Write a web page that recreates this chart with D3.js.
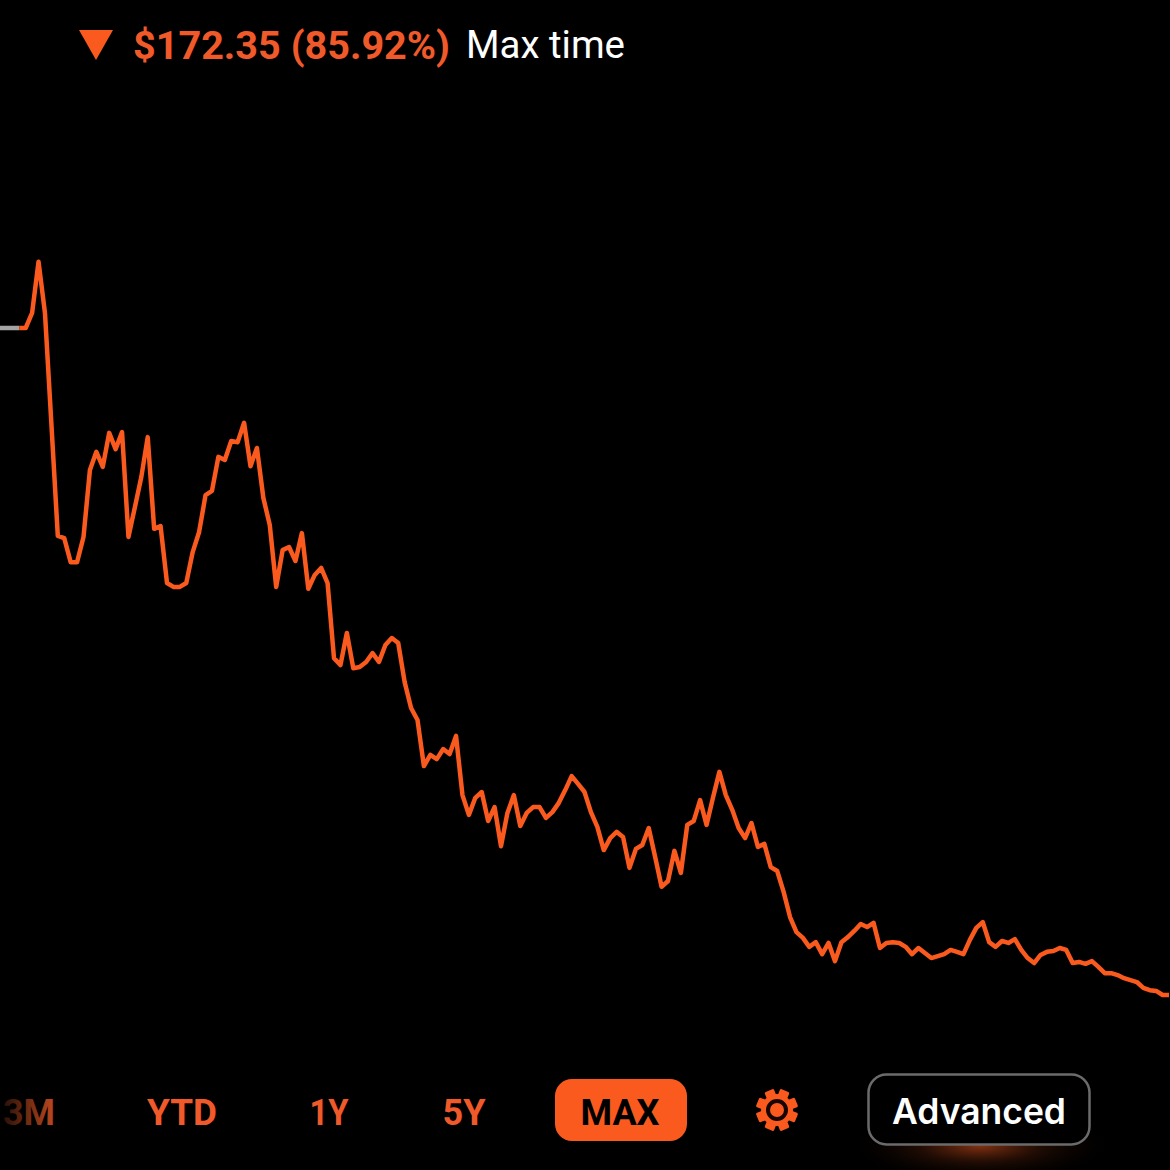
<!DOCTYPE html>
<html lang="en">
<head>
    <meta charset="UTF-8">
    <title>Max time price</title>
    <script src="https://d3js.org/d3.v7.min.js"></script>
    <style>
        html, body { margin: 0; padding: 0; background: #000; }
        svg { display: block; }
        text { font-family: "Liberation Sans", sans-serif; }
    </style>
</head>
<body>
    <script>
        // price readings, one per step
        var prices = [
            200.6, 200.6, 200.6, 200.6, 200.6, 204.5, 217.7, 204.5, 175.8, 146.9,
            146.3, 140.1, 140.1, 146.6, 163.9, 168.6, 164.7, 173.5, 169.3, 173.7,
            146.6, 154.3, 162.1, 172.4, 148.7, 149.4, 134.7, 133.7, 133.7, 134.7,
            142.7, 147.9, 157.4, 158.5, 167.3, 166.5, 171.4, 171.1, 176.1, 164.9,
            169.6, 156.7, 149.7, 133.7, 143.2, 144.0, 140.4, 147.6, 133.2, 136.8,
            138.6, 134.7, 115.3, 113.5, 121.8, 112.7, 113.0, 114.3, 116.6, 114.3,
            118.7, 120.5, 119.2, 109.1, 102.4, 99.3, 87.4, 90.3, 89.2, 91.8,
            90.5, 95.2, 79.9, 74.8, 79.2, 80.7, 73.2, 76.8, 66.7, 75.3,
            79.9, 71.9, 75.3, 76.8, 76.8, 74.0, 75.5, 77.9, 81.2, 84.8,
            82.8, 80.7, 75.5, 71.7, 65.7, 68.8, 70.4, 69.1, 61.1, 66.0,
            67.0, 71.4, 63.9, 56.2, 57.7, 65.5, 59.8, 72.2, 73.2, 78.6,
            72.2, 79.2, 85.9, 79.9, 76.1, 71.4, 68.8, 72.7, 66.5, 67.3,
            61.3, 60.3, 54.9, 48.4, 44.5, 43.0, 40.7, 41.9, 38.8, 41.7,
            37.0, 41.9, 43.2, 44.8, 46.6, 45.8, 46.9, 40.4, 41.7, 41.9,
            41.7, 40.7, 38.8, 40.4, 39.1, 37.8, 38.3, 38.8, 39.9, 39.4,
            38.8, 42.5, 45.6, 47.1, 41.9, 40.7, 42.2, 41.7, 42.7, 39.9,
            37.8, 36.5, 38.6, 39.4, 39.6, 40.4, 39.9, 36.5, 36.8, 36.3,
            37.0, 35.5, 33.9, 33.9, 33.4, 32.6, 32.1, 31.6, 30.1, 29.5,
            29.3, 28.25, 28.25
        ];
        var flatSteps = 4; // the grey stretch before the first move
        var startPrice = 200.6;
        var endPrice = 28.25;

        var changeLabel = '$172.35 (85.92%)';
        var periodLabel = 'Max time';
        var rangeLabels = ['3M', 'YTD', '1Y', '5Y', 'MAX'];
        var rangeCenters = [29, 182, 329, 464, 620];
        var rangeWidths = [52, 70, 39, 43, 79];
        var advancedLabel = 'Advanced';

        var orange = '#fa5a1e';
        var textOrange = '#f05a2a';

        var w = 1170, h = 1170;
        var svg = d3.select('body')
                    .append('svg')
                    .attr('width', w)
                    .attr('height', h)

        var defs = svg.append('defs');

        var fade = defs.append('linearGradient')
            .attr('id', 'fade')
            .attr('gradientUnits', 'userSpaceOnUse')
            .attr('x1', 3).attr('x2', 56).attr('y1', 0).attr('y2', 0);
        fade.append('stop').attr('offset', '0').attr('stop-color', '#2a1006');
        fade.append('stop').attr('offset', '1').attr('stop-color', '#c04a20');

        var glow = defs.append('radialGradient').attr('id', 'glow');
        glow.append('stop').attr('offset', '0').attr('stop-color', '#d8521c').attr('stop-opacity', 0.6);
        glow.append('stop').attr('offset', '0.45').attr('stop-color', '#a03c14').attr('stop-opacity', 0.2);
        glow.append('stop').attr('offset', '1').attr('stop-color', '#000').attr('stop-opacity', 0);

        // scales
        var xScale = d3.scaleLinear()
                        .domain([0, prices.length - 1])
                        .range([0, 1169])
        var yScale = d3.scaleLinear()
                        .domain([endPrice, startPrice])
                        .range([995, 328])

        var line = d3.line()
            .x((d) => xScale(d.i))
            .y((d) => yScale(d.v))

        var points = prices.map((v, i) => ({i: i, v: v}));

        svg.append('path')
            .datum(points.slice(0, flatSteps))
            .attr('d', line)
            .attr('fill', 'none')
            .attr('stroke', '#a3a3a3')
            .attr('stroke-width', 4.5)

        svg.append('path')
            .datum(points.slice(flatSteps - 1))
            .attr('d', line)
            .attr('fill', 'none')
            .attr('stroke', orange)
            .attr('stroke-width', 4.5)
            .attr('stroke-linejoin', 'round')

        // header
        svg.append('path')
            .attr('d', 'M79,30 L113,30 L96,60 Z')
            .attr('fill', orange)

        svg.append('text')
            .attr('x', 133).attr('y', 59)
            .attr('font-size', 39)
            .style('font-family', 'Roboto, sans-serif')
            .attr('font-weight', 700)
            .attr('fill', textOrange)
            .attr('textLength', 317).attr('lengthAdjust', 'spacingAndGlyphs')
            .text(changeLabel)

        svg.append('text')
            .attr('x', 466).attr('y', 58)
            .attr('font-size', 39)
            .style('font-family', 'Roboto, sans-serif')
            .attr('fill', '#fff')
            .attr('textLength', 159).attr('lengthAdjust', 'spacingAndGlyphs')
            .text(periodLabel)

        // range buttons
        svg.append('rect')
            .attr('x', 555).attr('y', 1079)
            .attr('width', 132).attr('height', 62)
            .attr('rx', 17)
            .attr('fill', orange)

        svg.selectAll('.range')
            .data(rangeLabels)
            .enter()
            .append('text')
            .attr('class', 'range')
            .attr('x', (d, i) => rangeCenters[i])
            .attr('y', 1125)
            .attr('text-anchor', 'middle')
            .attr('font-size', 37)
            .style('font-family', 'Roboto, sans-serif')
            .attr('font-weight', 700)
            .attr('fill', (d) => d == 'MAX' ? '#000' : d == '3M' ? 'url(#fade)' : textOrange)
            .attr('textLength', (d, i) => rangeWidths[i])
            .attr('lengthAdjust', 'spacingAndGlyphs')
            .text((d) => d)

        // gear
        var gear = svg.append('g').attr('transform', 'translate(777,1110)');
        gear.selectAll('rect')
            .data(d3.range(8))
            .enter()
            .append('rect')
            .attr('x', -5).attr('y', -21)
            .attr('width', 10).attr('height', 12)
            .attr('rx', 1.5)
            .attr('fill', orange)
            .attr('transform', (d) => 'rotate(' + (d * 45 + 22.5) + ')')
        gear.append('circle').attr('r', 16).attr('fill', orange)
        gear.append('circle').attr('r', 9).attr('fill', 'none').attr('stroke', '#160602').attr('stroke-width', 4)

        // advanced button
        svg.append('ellipse')
            .attr('cx', 980).attr('cy', 1146)
            .attr('rx', 135).attr('ry', 36)
            .attr('fill', 'url(#glow)')

        svg.append('rect')
            .attr('x', 868.5).attr('y', 1074.5)
            .attr('width', 221).attr('height', 70)
            .attr('rx', 18)
            .attr('fill', '#000')
            .attr('stroke', '#6b6b6b')
            .attr('stroke-width', 2.5)

        svg.append('text')
            .attr('x', 979).attr('y', 1124)
            .attr('text-anchor', 'middle')
            .attr('font-size', 36)
            .style('font-family', 'Inter, sans-serif')
            .attr('font-weight', 600)
            .attr('fill', '#fff')
            .attr('textLength', 174).attr('lengthAdjust', 'spacingAndGlyphs')
            .text(advancedLabel)
    </script>
</body>
</html>
